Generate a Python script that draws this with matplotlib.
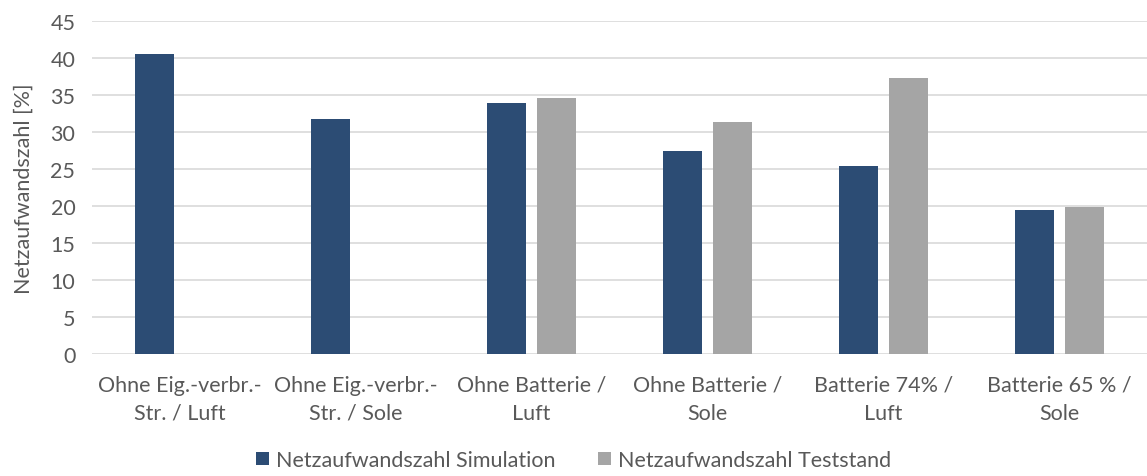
import matplotlib
matplotlib.use("Agg")
import matplotlib.pyplot as plt
import numpy as np

categories = [
    "Ohne Eig.-verbr.-\nStr. / Luft",
    "Ohne Eig.-verbr.-\nStr. / Sole",
    "Ohne Batterie /\nLuft",
    "Ohne Batterie /\nSole",
    "Batterie 74% /\nLuft",
    "Batterie 65 % /\nSole",
]
simulation = [40.5, 31.8, 33.9, 27.4, 25.4, 19.4]
teststand = [np.nan, np.nan, 34.6, 31.4, 37.3, 19.9]
y_ticks = [0, 5, 10, 15, 20, 25, 30, 35, 40, 45]

plt.rcParams["font.family"] = ["Lato", "DejaVu Sans"]
text_color = "#595959"
fs = 15.5

fig = plt.figure(figsize=(11.47, 4.77), dpi=100)
ax = fig.add_axes([0.0802, 0.2558, 0.9198, 0.6981])

x = np.arange(len(categories))
w = 0.222
off = 0.1425
ax.bar(x - off, simulation, width=w, color="#2C4C74", label="Netzaufwandszahl Simulation", zorder=3)
ax.bar(x + off, teststand, width=w, color="#A5A5A5", label="Netzaufwandszahl Teststand", zorder=3)

ax.set_xlim(-0.5, len(categories) - 0.5)
ax.set_ylim(0, 45)
ax.set_yticks(y_ticks)
ax.set_xticks(x)
ax.set_xticklabels(categories, fontsize=fs, color=text_color, linespacing=1.5)
ax.tick_params(axis="y", labelsize=fs, colors=text_color, length=0, pad=12)
ax.tick_params(axis="x", length=0, pad=15)
ax.grid(axis="y", color="#D9D9D9", linewidth=1.2, zorder=0)
for s in ax.spines.values():
    s.set_visible(False)
ax.set_ylabel("Netzaufwandszahl [%]", fontsize=fs, color=text_color, labelpad=12)

leg = fig.legend(loc="lower center", bbox_to_anchor=(0.5, -0.028), ncol=2, frameon=False,
                 fontsize=fs, handlelength=0.6, handleheight=0.6, handletextpad=0.3,
                 columnspacing=2.0)
for t in leg.get_texts():
    t.set_color(text_color)

fig.savefig("out.png", dpi=100)
